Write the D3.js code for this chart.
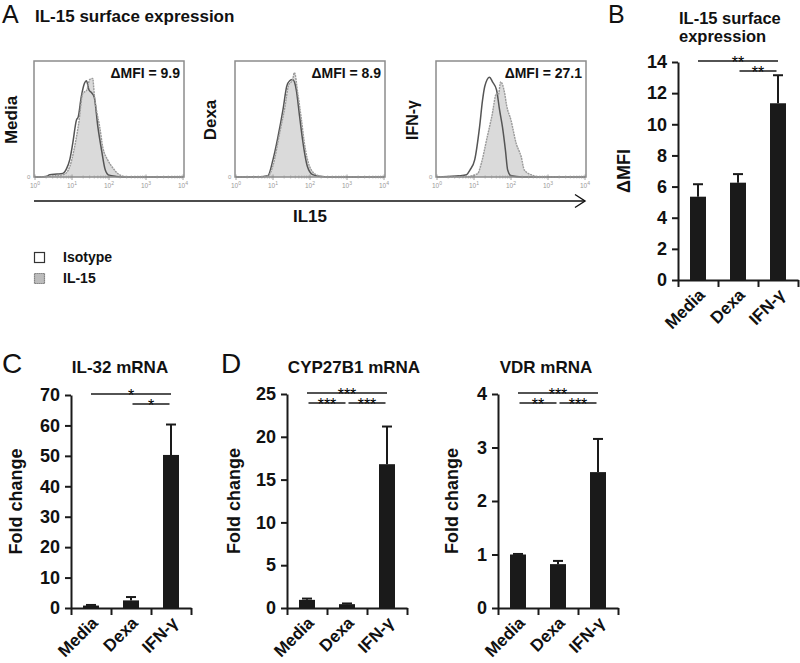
<!DOCTYPE html>
<html><head><meta charset="utf-8">
<script src="https://cdn.jsdelivr.net/npm/d3@7"></script>
<style>body{margin:0;background:#fff} svg{display:block} text{font-family:"Liberation Sans",Arial,sans-serif}</style>
</head><body><svg id="c" width="800" height="663"></svg>
<script>
// ---------- DATA ----------
const categories = ["Media", "Dexa", "IFN-γ"];

// Panel A: flow histograms (x = log10 intensity, y = relative count)
const histLabels = ["Media", "Dexa", "IFN-γ"];
const deltaMFI = ["ΔMFI = 9.9", "ΔMFI = 8.9", "ΔMFI = 27.1"];
const histTicks = [0, 1, 2, 3, 4];
const isoMedia = [[0,0],[0.3,0.005],[0.4,0.02],[0.6,0.025],[0.75,0.03],[0.85,0.07],[0.94,0.15],[1.02,0.29],[1.12,0.49],[1.17,0.52],[1.25,0.69],[1.34,0.81],[1.39,0.83],[1.46,0.75],[1.52,0.73],[1.6,0.69],[1.7,0.43],[1.8,0.23],[1.9,0.06],[2.0,0.015],[2.2,0.005],[2.5,0],[4,0]];
const il15Media = [[0,0],[0.5,0.01],[0.75,0.02],[0.86,0.04],[0.94,0.09],[1.07,0.26],[1.18,0.46],[1.29,0.72],[1.4,0.75],[1.48,0.84],[1.56,0.85],[1.6,0.72],[1.66,0.58],[1.75,0.43],[1.83,0.26],[1.96,0.15],[2.1,0.08],[2.28,0.02],[2.47,0.003],[4,0]];
const isoDexa = [[0,0],[0.7,0.003],[0.86,0.01],[1.0,0.15],[1.13,0.34],[1.27,0.58],[1.37,0.78],[1.45,0.83],[1.53,0.84],[1.63,0.75],[1.72,0.52],[1.8,0.32],[1.93,0.09],[2.07,0.02],[2.3,0.004],[2.5,0],[4,0]];
const il15Dexa = [[0,0],[0.8,0.003],[0.9,0.02],[1.0,0.1],[1.18,0.38],[1.32,0.6],[1.42,0.79],[1.53,0.84],[1.58,0.9],[1.67,0.72],[1.77,0.49],[1.85,0.29],[1.99,0.09],[2.17,0.02],[2.4,0.003],[4,0]];
const isoIFN = [[0,0],[0.3,0.005],[0.6,0.01],[0.8,0.02],[0.89,0.06],[1.02,0.15],[1.15,0.43],[1.23,0.66],[1.29,0.78],[1.42,0.86],[1.5,0.82],[1.61,0.75],[1.69,0.58],[1.77,0.43],[1.85,0.23],[1.91,0.06],[2.0,0.01],[2.3,0],[4,0]];
const il15IFN = [[0,0],[0.8,0.003],[1.1,0.03],[1.2,0.12],[1.34,0.32],[1.48,0.52],[1.61,0.72],[1.66,0.71],[1.72,0.82],[1.83,0.72],[1.88,0.62],[2.0,0.49],[2.14,0.29],[2.28,0.17],[2.36,0.06],[2.58,0.015],[2.8,0],[4,0]];
const isoSeries = [isoMedia, isoDexa, isoIFN];
const il15Series = [il15Media, il15Dexa, il15IFN];
const legendLabels = ["Isotype", "IL-15"];

// Panel B
const mfiMean = [5.35, 6.25, 11.35];
const mfiSem = [0.8, 0.55, 1.8];
const mfiTicks = [0, 2, 4, 6, 8, 10, 12, 14];
const mfiSig = [[0, 2, "**", 0], [1, 2, "**", 1]];

// Panel C
const il32Mean = [0.8, 2.5, 50.3];
const il32Sem = [0.2, 1.1, 10.0];
const il32Ticks = [0, 10, 20, 30, 40, 50, 60, 70];
const il32Sig = [[0, 2, "*", 0], [1, 2, "*", 1]];

// Panel D
const cypMean = [0.95, 0.45, 16.8];
const cypSem = [0.15, 0.08, 4.4];
const cypTicks = [0, 5, 10, 15, 20, 25];
const cypSig = [[0, 2, "***", 0], [0, 1, "***", 1], [1, 2, "***", 1]];

const vdrMean = [1.0, 0.82, 2.54];
const vdrSem = [0.01, 0.06, 0.62];
const vdrTicks = [0, 1, 2, 3, 4];
const vdrSig = [[0, 2, "***", 0], [0, 1, "**", 1], [1, 2, "***", 1]];

// ---------- DRAW ----------
const svg = d3.select("#c");
svg.append("rect").attr("width", 800).attr("height", 663).attr("fill", "#fff");

function text(x, y, s, size, opt = {}) {
  const t = svg.append("text").attr("x", x).attr("y", y).text(s)
    .attr("font-size", size).attr("font-weight", opt.weight || "bold")
    .attr("fill", opt.fill || "#111").attr("text-anchor", opt.anchor || "start");
  if (opt.rotate !== undefined) t.attr("transform", `rotate(${opt.rotate},${x},${y})`);
  return t;
}

// Panel letters
text(2, 23, "A", 25, {weight: "normal"});
text(608, 23, "B", 25, {weight: "normal"});
text(2, 373, "C", 28, {weight: "normal"});
text(221, 373, "D", 28, {weight: "normal"});

// ----- Panel A -----
text(35, 22, "IL-15 surface expression", 17);
const boxX = [34, 235, 436], boxW = 150, boxTop = 61, boxBot = 177;
const labelX = [17, 216, 418], labelSize = [17, 17, 16];
histLabels.forEach((lab, i) => {
  const x0 = boxX[i];
  const xs = d3.scaleLinear().domain([0, 4]).range([x0 + 1, x0 + boxW - 1]);
  const ys = d3.scaleLinear().domain([0, 1]).range([boxBot, boxTop]);
  const g = svg.append("g");
  const area = d3.area().x(d => xs(d[0])).y0(boxBot).y1(d => ys(d[1])).curve(d3.curveMonotoneX);
  const line = d3.line().x(d => xs(d[0])).y(d => ys(d[1])).curve(d3.curveMonotoneX);
  g.append("path").attr("d", area(il15Series[i])).attr("fill", "#dadada");
  g.append("path").attr("d", line(isoSeries[i])).attr("fill", "none").attr("stroke", "#555").attr("stroke-width", 1.5);
  g.append("path").attr("d", line(il15Series[i])).attr("fill", "none").attr("stroke", "#9a9a9a").attr("stroke-width", 1.4).attr("stroke-dasharray", "2,0.8");
  g.append("rect").attr("x", x0).attr("y", boxTop).attr("width", boxW).attr("height", boxBot - boxTop)
    .attr("fill", "none").attr("stroke", "#8c8c8c").attr("stroke-width", 1.5);
  const minor = [];
  for (let d = 0; d < 4; d++) for (let k = 2; k < 10; k++) minor.push(d + Math.log10(k));
  g.selectAll(".mn").data(minor).enter().append("line")
    .attr("x1", d => xs(d)).attr("x2", d => xs(d)).attr("y1", boxBot - 1.5).attr("y2", boxBot + 1.5)
    .attr("stroke", "#999").attr("stroke-width", 0.7);
  g.selectAll(".mj").data(histTicks).enter().append("line")
    .attr("x1", d => xs(d)).attr("x2", d => xs(d)).attr("y1", boxBot - 2.5).attr("y2", boxBot + 3)
    .attr("stroke", "#888").attr("stroke-width", 0.8);
  histTicks.forEach(t => {
    const tt = g.append("text").attr("x", xs(t)).attr("y", boxBot + 11).attr("font-size", 6.5)
      .attr("fill", "#999").attr("text-anchor", "middle");
    tt.append("tspan").text("10");
    tt.append("tspan").attr("dy", -3).attr("font-size", 5).text(t);
  });
  g.append("text").attr("x", x0 - 7).attr("y", boxBot + 2).attr("font-size", 6).attr("fill", "#999").text("0");
  text(x0 + boxW - 4, 78, deltaMFI[i], 14, {anchor: "end"});
  text(labelX[i], 120, lab, labelSize[i], {anchor: "middle", rotate: -90});
});
svg.append("line").attr("x1", 34).attr("x2", 585).attr("y1", 201).attr("y2", 201).attr("stroke", "#111").attr("stroke-width", 1.6);
svg.append("path").attr("d", "M575,194.5L585,201L575,207.5").attr("fill", "none").attr("stroke", "#111").attr("stroke-width", 1.4);
text(310, 222, "IL15", 17, {anchor: "middle"});
svg.append("rect").attr("x", 34.5).attr("y", 252.5).attr("width", 10).attr("height", 10).attr("fill", "#fff").attr("stroke", "#333").attr("stroke-width", 1.2);
svg.append("rect").attr("x", 34.5).attr("y", 273.5).attr("width", 10).attr("height", 10).attr("fill", "#bcbcbc").attr("stroke", "#666").attr("stroke-width", 1.2).attr("stroke-dasharray", "1.2,0.8");
text(63, 262, legendLabels[0], 14);
text(63, 283, legendLabels[1], 14);

// ----- bar panels -----
function barPanel(p) {
  const g = svg.append("g");
  const x = d3.scaleBand().domain(categories).range([p.x0, p.x0 + 120]).paddingInner(0.6).paddingOuter(0.3);
  const y = d3.scaleLinear().domain([0, d3.max(p.ticks)]).range([p.yb, p.yt]);
  const cx = i => x(categories[i]) + x.bandwidth() / 2;
  g.selectAll(".bar").data(p.mean).enter().append("rect")
    .attr("x", (d, i) => x(categories[i])).attr("width", x.bandwidth())
    .attr("y", d => y(d)).attr("height", d => y(0) - y(d)).attr("fill", "#1a1a1a");
  p.mean.forEach((m, i) => {
    g.append("line").attr("x1", cx(i)).attr("x2", cx(i)).attr("y1", y(m)).attr("y2", y(m + p.sem[i]))
      .attr("stroke", "#1a1a1a").attr("stroke-width", 2);
    g.append("line").attr("x1", cx(i) - 5).attr("x2", cx(i) + 5).attr("y1", y(m + p.sem[i])).attr("y2", y(m + p.sem[i]))
      .attr("stroke", "#1a1a1a").attr("stroke-width", 2);
  });
  const ya = g.append("g").attr("transform", `translate(${p.x0},0)`)
    .call(d3.axisLeft(y).tickValues(p.ticks).tickFormat(d3.format("d")).tickSize(6).tickSizeOuter(0).tickPadding(5));
  ya.select(".domain").attr("stroke", "#1a1a1a").attr("stroke-width", 2);
  ya.selectAll(".tick line").attr("stroke", "#1a1a1a").attr("stroke-width", 2);
  ya.selectAll(".tick text").attr("font-size", 18).attr("font-weight", "bold").attr("fill", "#111")
    .attr("font-family", '"Liberation Sans", Arial, sans-serif');
  const xl = d3.scaleLinear().domain([0, 3]).range([p.x0, p.x0 + 120]);
  const xa = g.append("g").attr("transform", `translate(0,${y(0)})`)
    .call(d3.axisBottom(xl).tickValues([0, 1, 2, 3]).tickSize(7).tickSizeOuter(0).tickFormat(""));
  xa.select(".domain").attr("stroke", "#1a1a1a").attr("stroke-width", 2);
  xa.selectAll(".tick line").attr("stroke", "#1a1a1a").attr("stroke-width", 2);
  categories.forEach((c, i) => {
    text(cx(i) + 8, y(0) + 16, c, 17, {anchor: "end", rotate: -45});
  });
  p.sig.forEach(([a, b, s, lvl]) => {
    const ly = y(d3.max(p.ticks)) - 1 + lvl * 10;
    const xa1 = cx(a) + (lvl ? 1.5 : 0), xb1 = cx(b) - (lvl ? 1.5 : 0);
    g.append("line").attr("x1", xa1).attr("x2", xb1).attr("y1", ly).attr("y2", ly)
      .attr("stroke", "#1a1a1a").attr("stroke-width", 1.6);
    text((xa1 + xb1) / 2, ly + 6.5, s, 16, {anchor: "middle", weight: "normal", fill: "#000"});
  });
  p.title.forEach((t, k) => text(p.titleX, p.titleY + k * p.titleStep, t, p.titleSize || 17, {anchor: p.titleAnchor || "middle"}));
  text(p.ylabX, (p.yb + p.yt) / 2, p.ylab, p.ylabSize || 18, {anchor: "middle", rotate: -90});
}

barPanel({x0: 678, yb: 280, yt: 62, mean: mfiMean, sem: mfiSem, ticks: mfiTicks, sig: mfiSig,
  title: ["IL-15 surface", "expression"], titleX: 679, titleY: 24, titleStep: 18, titleSize: 16.5, titleAnchor: "start", ylab: "ΔMFI", ylabX: 630});
barPanel({x0: 71, yb: 608, yt: 395, mean: il32Mean, sem: il32Sem, ticks: il32Ticks, sig: il32Sig,
  title: ["IL-32 mRNA"], titleX: 120, titleY: 373, titleStep: 17, ylab: "Fold change", ylabX: 22});
barPanel({x0: 287, yb: 608, yt: 394, mean: cypMean, sem: cypSem, ticks: cypTicks, sig: cypSig,
  title: ["CYP27B1 mRNA"], titleX: 354, titleY: 373, titleStep: 17, ylab: "Fold change", ylabX: 240});
barPanel({x0: 498, yb: 608, yt: 394, mean: vdrMean, sem: vdrSem, ticks: vdrTicks, sig: vdrSig,
  title: ["VDR mRNA"], titleX: 546, titleY: 373, titleStep: 17, ylab: "Fold change", ylabX: 458});
</script></body></html>
